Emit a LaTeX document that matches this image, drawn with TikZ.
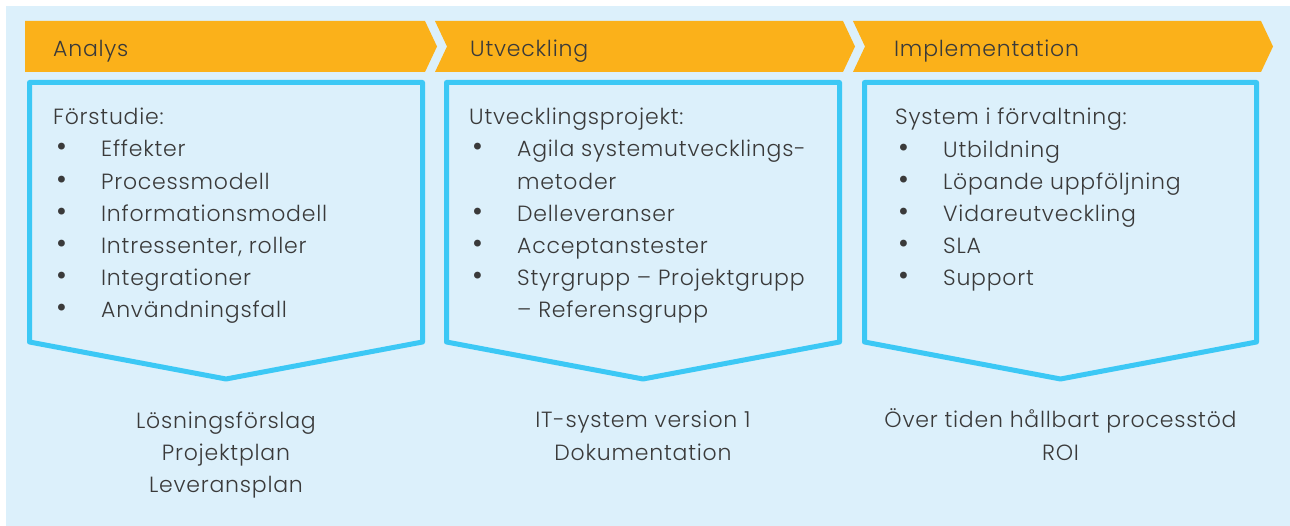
\documentclass[tikz,border=0pt]{standalone}
\usepackage{fontspec}
\setmainfont{Poppins}[UprightFont={* Light},LetterSpace=3.5]
\usepackage{tikz}

\definecolor{bgblue}{HTML}{DCF0FB}
\definecolor{phaseorange}{HTML}{FBB11A}
\definecolor{boxblue}{HTML}{3CC8F5}
\definecolor{textgray}{HTML}{3A3A3A}

\newcommand{\bitem}[1]{\makebox[48pt][l]{\hspace{3pt}\scalebox{1.35}{\textbullet}}#1}
\newcommand{\bcont}[1]{\hspace{48pt}#1}

\begin{document}
\begin{tikzpicture}[x=1pt,y=-1pt]
            \tikzstyle{phase}=[fill=phaseorange]
            \tikzstyle{stage}=[draw=boxblue,line width=5pt,line join=round]
            \tikzstyle{txt}=[inner sep=0pt,text=textgray,font=\fontsize{22}{32.2}\selectfont]
            \tikzstyle{heading}=[txt,anchor=base west]
            \tikzstyle{body}=[txt,anchor=base west,align=left]
            \tikzstyle{result}=[txt,anchor=base,align=center]
            \useasboundingbox (0,0) rectangle (1290,526);
            \fill[bgblue] (6,6) rectangle (1290,526);
            % phase arrows
            \fill[phase] (25,21) -- (425,21) -- (437,46.5) -- (425,72) -- (25,72) -- cycle;
            \fill[phase] (435,21) -- (843,21) -- (855,46.5) -- (843,72) -- (435,72) -- (447,46.5) -- cycle;
            \fill[phase] (853,21) -- (1261,21) -- (1273,46.5) -- (1261,72) -- (853,72) -- (865,46.5) -- cycle;
            \node[heading] (analys) at (53,57) {Analys};
            \node[heading] (utv) at (470,57) {Utveckling};
            \node[heading] (impl) at (894,57) {Implementation};
            % stage boxes
            \draw[stage] (29.5,82.5) -- (422.5,82.5) -- (422.5,342) -- (226,379) -- (29.5,342) -- cycle;
            \draw[stage] (446.5,82.5) -- (839.5,82.5) -- (839.5,342) -- (643,379) -- (446.5,342) -- cycle;
            \draw[stage] (864.5,82.5) -- (1256.5,82.5) -- (1256.5,342) -- (1060.5,379) -- (864.5,342) -- cycle;
            % lists (anchored at the baseline of their last line)
            \node[body] (forstudie) at (53,318) {F\"orstudie:\\
                \bitem{Effekter}\\
                \bitem{Processmodell}\\
                \bitem{Informationsmodell}\\
                \bitem{Intressenter, roller}\\
                \bitem{Integrationer}\\
                \bitem{Anv\"andningsfall}};
            \node[body] (utvproj) at (469,318) {Utvecklingsprojekt:\\
                \bitem{Agila systemutvecklings-}\\
                \bcont{metoder}\\
                \bitem{Delleveranser}\\
                \bitem{Acceptanstester}\\
                \bitem{Styrgrupp -- Projektgrupp}\\
                \bcont{-- Referensgrupp}};
            \node[body] (forvaltning) at (895,286) {System i f\"orvaltning:\\
                \bitem{Utbildning}\\
                \bitem{L\"opande uppf\"oljning}\\
                \bitem{Vidareutveckling}\\
                \bitem{SLA}\\
                \bitem{Support}};
            % results
            \node[result] (res1) at (226,492.5) {L\"osningsf\"orslag\\ Projektplan\\ Leveransplan};
            \node[result] (res2) at (643,460) {IT-system version 1\\ Dokumentation};
            \node[result] (res3) at (1060.5,460) {\"Over tiden h\r{a}llbart processt\"od\\ ROI};
        \end{tikzpicture}
\end{document}
